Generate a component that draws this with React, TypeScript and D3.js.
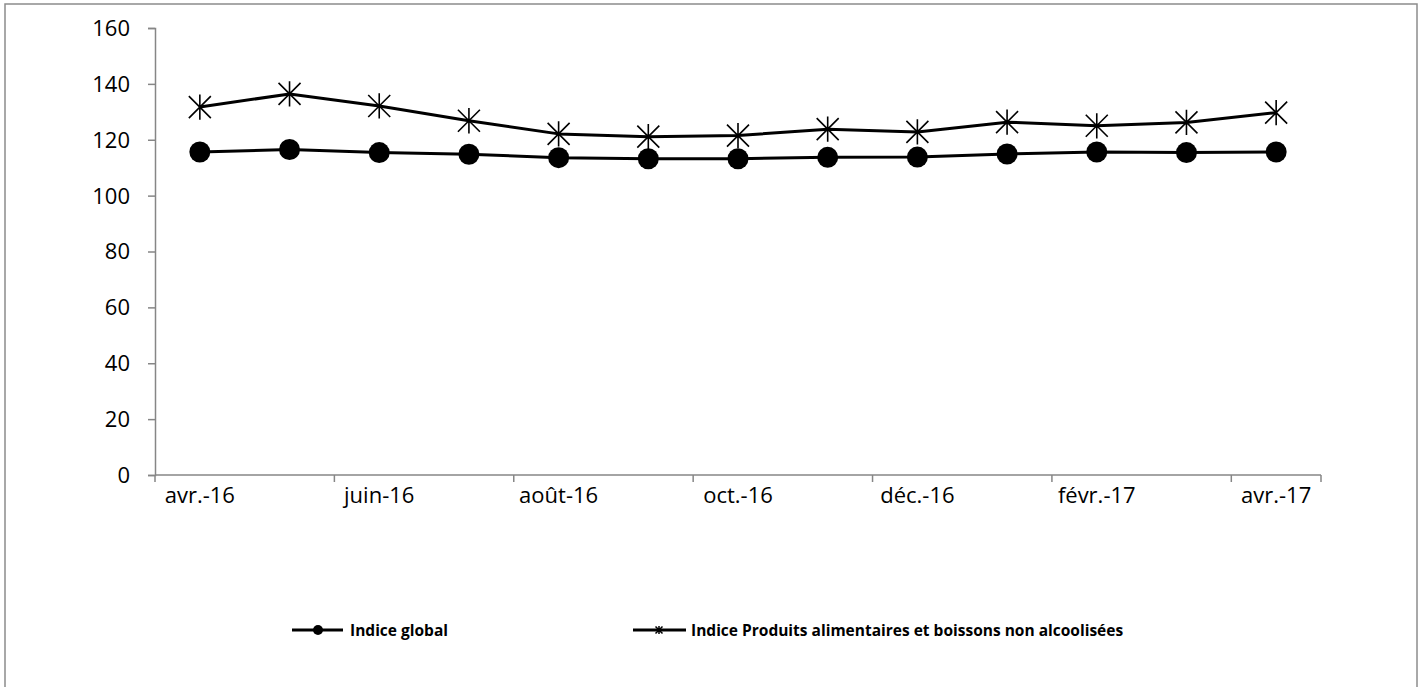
import React, { useEffect, useRef } from "react";
import * as d3 from "d3";

const categories = [
  "avr.-16", "mai-16", "juin-16", "juil.-16", "août-16", "sept.-16", "oct.-16",
  "nov.-16", "déc.-16", "janv.-17", "févr.-17", "mars-17", "avr.-17",
];
const globalIndex = [115.6, 116.5, 115.4, 114.8, 113.6, 113.2, 113.2, 113.7, 113.8, 114.9, 115.6, 115.4, 115.6];
const foodIndex = [131.7, 136.4, 132.1, 126.8, 122.1, 121.1, 121.5, 123.8, 122.8, 126.3, 125.0, 126.2, 129.7];
const yTicks = [0, 20, 40, 60, 80, 100, 120, 140, 160];
const seriesNames = ["Indice global", "Indice Produits alimentaires et boissons non alcoolisées"];

const W = 1423;
const H = 687;
const FONT = "'Open Sans', 'Noto Sans', sans-serif";

export default function App() {
  const ref = useRef<SVGSVGElement>(null);

  useEffect(() => {
    const svg = d3.select(ref.current);
    svg.selectAll("*").remove();

    const left = 155, right = 1321, top = 28, bottom = 475;
    const x = d3.scaleBand<string>().domain(categories).range([left, right]);
    const y = d3.scaleLinear().domain([0, 160]).range([bottom, top]);
    const cx = (c: string) => (x(c) as number) + x.bandwidth() / 2;

    // outer border
    svg.append("rect").attr("x", 5).attr("y", 4).attr("width", 1412).attr("height", 700)
      .attr("fill", "white").attr("stroke", "#8c8c8c").attr("stroke-width", 1.5);

    const axisColor = "#868686";
    // y axis
    const gy = svg.append("g").attr("transform", `translate(${left},0)`)
      .call(d3.axisLeft(y).tickValues(yTicks).tickSize(7).tickPadding(18));
    gy.select(".domain").attr("stroke", axisColor).attr("stroke-width", 1.5);
    gy.selectAll(".tick line").attr("stroke", axisColor).attr("stroke-width", 1.5);
    gy.selectAll(".tick text").attr("font-family", FONT).attr("font-size", 22).attr("fill", "#000")
      .attr("dy", "0.34em");

    // x axis
    const gx = svg.append("g").attr("transform", `translate(0,${bottom})`);
    gx.append("line").attr("x1", left).attr("x2", right).attr("y1", 0).attr("y2", 0)
      .attr("stroke", axisColor).attr("stroke-width", 1.5);
    categories.forEach((c, i) => {
      if (i % 2 === 0) {
        gx.append("line").attr("x1", x(c) as number).attr("x2", x(c) as number)
          .attr("y1", 0).attr("y2", 7).attr("stroke", axisColor).attr("stroke-width", 1.5);
        gx.append("text").attr("x", cx(c)).attr("y", 28).attr("text-anchor", "middle")
          .attr("font-family", FONT).attr("font-size", 22).attr("fill", "#000").text(c);
      }
    });
    gx.append("line").attr("x1", right).attr("x2", right).attr("y1", 0).attr("y2", 7)
      .attr("stroke", axisColor).attr("stroke-width", 1.5);

    const line = d3.line<number>().x((_, i) => cx(categories[i])).y((d) => y(d));

    const starPath = (s: number) =>
      `M${-s},${-s}L${s},${s}M${-s},${s}L${s},${-s}M0,${-s * 1.15}L0,${s * 1.15}`;

    // food series
    svg.append("path").datum(foodIndex).attr("d", line).attr("fill", "none")
      .attr("stroke", "#000").attr("stroke-width", 3).attr("stroke-linejoin", "round");
    svg.append("g").selectAll("path").data(foodIndex).join("path")
      .attr("transform", (d, i) => `translate(${cx(categories[i])},${y(d)})`)
      .attr("d", starPath(11)).attr("stroke", "#000").attr("stroke-width", 1.6).attr("fill", "none");

    // global series
    svg.append("path").datum(globalIndex).attr("d", line).attr("fill", "none")
      .attr("stroke", "#000").attr("stroke-width", 3).attr("stroke-linejoin", "round");
    svg.append("g").selectAll("circle").data(globalIndex).join("circle")
      .attr("cx", (_, i) => cx(categories[i])).attr("cy", (d) => y(d)).attr("r", 10.5).attr("fill", "#000");

    // legend
    const ly = 630;
    const lg = svg.append("g");
    lg.append("line").attr("x1", 292).attr("x2", 343).attr("y1", ly).attr("y2", ly)
      .attr("stroke", "#000").attr("stroke-width", 3);
    lg.append("circle").attr("cx", 318).attr("cy", ly).attr("r", 5).attr("fill", "#000");
    lg.append("text").attr("x", 350).attr("y", ly + 5.5).attr("font-family", FONT)
      .attr("font-weight", "bold").attr("font-size", 15.5).attr("fill", "#000").text(seriesNames[0]);

    lg.append("line").attr("x1", 633).attr("x2", 686).attr("y1", ly).attr("y2", ly)
      .attr("stroke", "#000").attr("stroke-width", 3);
    lg.append("path").attr("transform", `translate(659,${ly})`).attr("d", starPath(3.5))
      .attr("stroke", "#000").attr("stroke-width", 1.5).attr("fill", "none");
    lg.append("text").attr("x", 691).attr("y", ly + 5.5).attr("font-family", FONT)
      .attr("font-weight", "bold").attr("font-size", 15.5).attr("fill", "#000").text(seriesNames[1]);
  }, []);

  return (
    <svg ref={ref} width={W} height={H}
      style={{ position: "absolute", left: 0, top: 0, display: "block", background: "white" }} />
  );
}
